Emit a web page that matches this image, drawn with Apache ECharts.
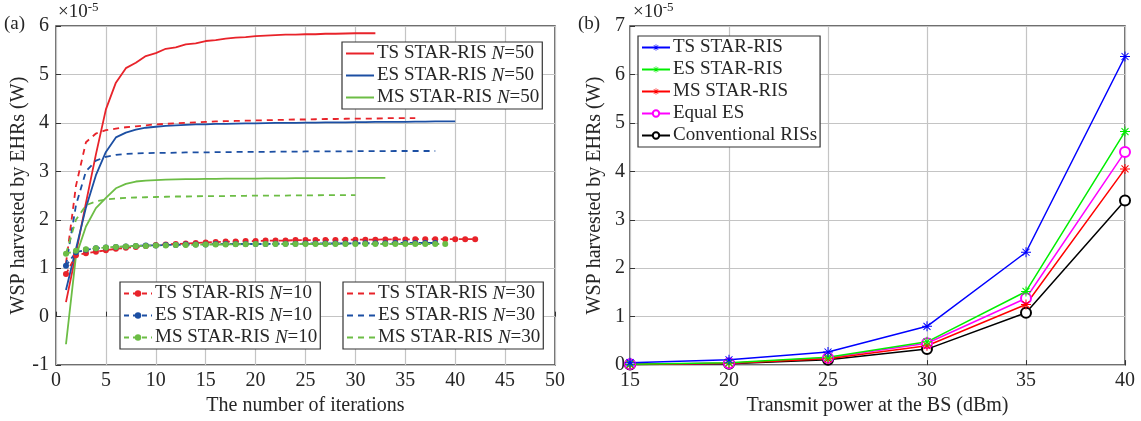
<!DOCTYPE html>
<html>
<head>
<meta charset="utf-8">
<script src="https://cdn.jsdelivr.net/npm/echarts/dist/echarts.min.js"></script>
<style>
  html, body { margin: 0; padding: 0; background: #fff; }
  #chart { width: 1141px; height: 421px; }
</style>
</head>
<body>
<div id="chart"></div>
<script>
// (a) WSP vs iterations, values in units of 1e-5 W, iteration = index + 1
const tsN50 = [0.3, 1.3, 2.35, 3.35, 4.28, 4.83, 5.13, 5.24, 5.38, 5.44, 5.53, 5.56, 5.62, 5.64, 5.69, 5.71, 5.74, 5.76, 5.77, 5.79, 5.80, 5.81, 5.82, 5.82, 5.83, 5.83, 5.84, 5.84, 5.845, 5.85, 5.85, 5.85]
const esN50 = [0.55, 1.4, 2.25, 2.92, 3.4, 3.7, 3.8, 3.86, 3.9, 3.92, 3.94, 3.95, 3.96, 3.97, 3.97, 3.98, 3.98, 3.985, 3.99, 3.99, 3.995, 4.0, 4.0, 4.0, 4.005, 4.005, 4.01, 4.01, 4.01, 4.015, 4.015, 4.02, 4.02, 4.02, 4.02, 4.025, 4.025, 4.03, 4.03, 4.03]
const msN50 = [-0.57, 1.25, 1.86, 2.24, 2.45, 2.65, 2.74, 2.79, 2.81, 2.82, 2.83, 2.835, 2.84, 2.84, 2.845, 2.845, 2.85, 2.85, 2.85, 2.85, 2.855, 2.855, 2.855, 2.86, 2.86, 2.86, 2.86, 2.86, 2.86, 2.865, 2.865, 2.865, 2.865]
const tsN30 = [1.1, 2.7, 3.6, 3.78, 3.85, 3.88, 3.91, 3.93, 3.95, 3.97, 3.98, 3.99, 4.0, 4.01, 4.02, 4.03, 4.035, 4.04, 4.045, 4.05, 4.055, 4.06, 4.065, 4.07, 4.07, 4.075, 4.08, 4.08, 4.085, 4.09, 4.09, 4.09, 4.095, 4.1, 4.1, 4.1]
const esN30 = [1.05, 2.3, 3.0, 3.22, 3.3, 3.34, 3.36, 3.37, 3.375, 3.38, 3.38, 3.385, 3.39, 3.39, 3.39, 3.395, 3.395, 3.4, 3.4, 3.4, 3.4, 3.405, 3.405, 3.405, 3.41, 3.41, 3.41, 3.41, 3.41, 3.415, 3.415, 3.415, 3.415, 3.42, 3.42, 3.42, 3.42, 3.42]
const msN30 = [1.3, 2.0, 2.3, 2.38, 2.42, 2.44, 2.45, 2.46, 2.465, 2.47, 2.475, 2.48, 2.48, 2.485, 2.49, 2.49, 2.49, 2.495, 2.495, 2.5, 2.5, 2.5, 2.5, 2.505, 2.505, 2.505, 2.51, 2.51, 2.51, 2.51]
const tsN10 = [0.88, 1.27, 1.31, 1.34, 1.37, 1.4, 1.42, 1.44, 1.46, 1.48, 1.49, 1.5, 1.51, 1.52, 1.53, 1.54, 1.55, 1.55, 1.56, 1.56, 1.57, 1.57, 1.57, 1.58, 1.58, 1.58, 1.585, 1.585, 1.59, 1.59, 1.59, 1.59, 1.595, 1.595, 1.595, 1.6, 1.6, 1.6, 1.6, 1.6, 1.6, 1.6]
const esN10 = [1.05, 1.33, 1.38, 1.41, 1.43, 1.44, 1.45, 1.46, 1.47, 1.47, 1.48, 1.48, 1.49, 1.49, 1.49, 1.5, 1.5, 1.5, 1.5, 1.5, 1.5, 1.505, 1.505, 1.505, 1.51, 1.51, 1.51, 1.51, 1.51, 1.515, 1.515, 1.515, 1.515, 1.52, 1.52, 1.52, 1.52, 1.52]
const msN10 = [1.3, 1.36, 1.39, 1.41, 1.43, 1.44, 1.45, 1.46, 1.46, 1.47, 1.47, 1.48, 1.48, 1.485, 1.49, 1.49, 1.49, 1.495, 1.495, 1.5, 1.5, 1.5, 1.5, 1.5, 1.5, 1.5, 1.5, 1.5, 1.5, 1.5, 1.5, 1.5, 1.5, 1.5, 1.5, 1.5, 1.5, 1.5, 1.5]

// (b) WSP vs transmit power, units of 1e-5 W
const powerDbm = [15, 20, 25, 30, 35, 40]
const tsPower = [0.05, 0.11, 0.27, 0.8, 2.33, 6.37]
const esPower = [0.02, 0.05, 0.16, 0.48, 1.52, 4.82]
const msPower = [0.01, 0.04, 0.13, 0.4, 1.25, 4.05]
const equalEsPower = [0.02, 0.04, 0.15, 0.45, 1.38, 4.4]
const convPower = [0.01, 0.03, 0.11, 0.33, 1.08, 3.4]

const RED = '#e8232a'
const BLUE = '#1c4fa3'
const GREEN = '#6cbd45'
const FONT = 'Liberation Serif'
const TXT = '#262626'
const FS = 20
const LFS = 19

const asterisk = 'path://M0,9L20,9L20,11L0,11Z M9,0L11,0L11,20L9,20Z M2.3,3.7L3.7,2.3L17.7,16.3L16.3,17.7Z M16.3,2.3L17.7,3.7L3.7,17.7L2.3,16.3Z'

const toPairs = (arr) => arr.map((v, i) => [i + 1, v])
const withX = (xs, ys) => ys.map((v, i) => [xs[i], v])

const iterLine = (name, data, color, type) => ({
    name,
    type: 'line',
    xAxisIndex: 0,
    yAxisIndex: 0,
    data: toPairs(data),
    symbol: 'none',
    lineStyle: { color, width: 1.8, type },
    itemStyle: { color },
    animation: false,
})

const dotLine = (name, data, color) => ({
    name,
    type: 'line',
    xAxisIndex: 0,
    yAxisIndex: 0,
    data: toPairs(data),
    symbol: 'circle',
    symbolSize: 6,
    lineStyle: { color, width: 1.8, type: [5, 4] },
    itemStyle: { color },
    animation: false,
})

const powerLine = (name, data, color, symbol, size) => ({
    name,
    type: 'line',
    xAxisIndex: 1,
    yAxisIndex: 1,
    data: withX(powerDbm, data),
    symbol,
    symbolSize: size,
    lineStyle: { color, width: 1.5 },
    itemStyle: symbol === 'emptyCircle'
        ? { color, borderColor: color, borderWidth: 1.5 }
        : { color },
    animation: false,
})

const italicN = (name) => name.replace(' N=', ' {i|N}=')

const legendBox = (pos, names, extra) => Object.assign({
    data: names,
    orient: 'vertical',
    itemWidth: 28,
    itemHeight: 8,
    itemGap: 3,
    padding: [2, 3, 2, 3],
    borderColor: '#333',
    borderWidth: 1.2,
    backgroundColor: '#fff',
    selectedMode: false,
    formatter: italicN,
    textStyle: {
        fontFamily: FONT, fontSize: LFS, color: TXT, padding: [0, 0, 0, -2],
        rich: { i: { fontFamily: FONT, fontSize: LFS, fontStyle: 'italic', color: TXT } },
    },
}, pos, extra || {})

const axisCommon = {
    axisLine: { show: false },
    axisTick: { show: true, inside: true, length: 5, lineStyle: { color: '#333' } },
    splitLine: { show: true, lineStyle: { color: '#c4c4c4', width: 1.2 } },
    axisLabel: { fontFamily: FONT, fontSize: FS, color: TXT },
    nameTextStyle: { fontFamily: FONT, fontSize: FS, color: TXT },
}

const chart = echarts.init(document.getElementById('chart'), null, { renderer: 'canvas' })

chart.setOption({
    backgroundColor: '#fff',
    animation: false,
    grid: [
        { left: 56, top: 26, width: 499, height: 343, show: true, borderColor: '#404040', borderWidth: 1.5, backgroundColor: 'transparent' },
        { left: 630, top: 26, width: 495, height: 343, show: true, borderColor: '#404040', borderWidth: 1.5, backgroundColor: 'transparent' },
    ],
    xAxis: [
        Object.assign({}, axisCommon, {
            type: 'value', gridIndex: 0, min: 0, max: 50, interval: 5,
            name: 'The number of iterations', nameLocation: 'middle', nameGap: 26,
            axisLabel: Object.assign({}, axisCommon.axisLabel, { margin: 6 }),
        }),
        Object.assign({}, axisCommon, {
            type: 'value', gridIndex: 1, min: 15, max: 40, interval: 5,
            name: 'Transmit power at the BS (dBm)', nameLocation: 'middle', nameGap: 26,
            axisLabel: Object.assign({}, axisCommon.axisLabel, { margin: 6 }),
        }),
    ],
    yAxis: [
        Object.assign({}, axisCommon, {
            type: 'value', gridIndex: 0, min: -1, max: 6, interval: 1,
            name: 'WSP harvested by EHRs (W)', nameLocation: 'middle', nameGap: 26, nameRotate: 90,
            axisLabel: Object.assign({}, axisCommon.axisLabel, { margin: 7 }),
        }),
        Object.assign({}, axisCommon, {
            type: 'value', gridIndex: 1, min: 0, max: 7, interval: 1,
            name: 'WSP harvested by EHRs (W)', nameLocation: 'middle', nameGap: 25, nameRotate: 90,
            axisLabel: Object.assign({}, axisCommon.axisLabel, { margin: 5 }),
        }),
    ],
    legend: [
        legendBox({ left: 342, top: 42 }, ['TS STAR-RIS N=50', 'ES STAR-RIS N=50', 'MS STAR-RIS N=50'], { itemStyle: { opacity: 0 } }),
        legendBox({ left: 120, top: 282 }, ['TS STAR-RIS N=10', 'ES STAR-RIS N=10', 'MS STAR-RIS N=10']),
        legendBox({ left: 343, top: 282 }, ['TS STAR-RIS N=30', 'ES STAR-RIS N=30', 'MS STAR-RIS N=30'], { itemStyle: { opacity: 0 } }),
        legendBox({ left: 638, top: 36 }, ['TS STAR-RIS', 'ES STAR-RIS', 'MS STAR-RIS', 'Equal ES', 'Conventional RISs'], { formatter: null }),
    ],
    graphic: [
        { type: 'text', left: 4, top: 15, style: { text: '(a)', font: '19px "Liberation Serif"', fill: TXT } },
        { type: 'text', left: 578, top: 15, style: { text: '(b)', font: '19px "Liberation Serif"', fill: TXT } },
        {
            type: 'text', left: 58, top: 1,
            style: {
                text: '×10{s|-5}', font: '19px "Liberation Serif"', fill: TXT,
                rich: { s: { fontFamily: FONT, fontSize: 13, color: TXT, verticalAlign: 'top', padding: [0, 0, 9, 0] } },
            },
        },
        {
            type: 'text', left: 633, top: 1,
            style: {
                text: '×10{s|-5}', font: '19px "Liberation Serif"', fill: TXT,
                rich: { s: { fontFamily: FONT, fontSize: 13, color: TXT, verticalAlign: 'top', padding: [0, 0, 9, 0] } },
            },
        },
    ],
    series: [
        iterLine('TS STAR-RIS N=50', tsN50, RED, 'solid'),
        iterLine('ES STAR-RIS N=50', esN50, BLUE, 'solid'),
        iterLine('MS STAR-RIS N=50', msN50, GREEN, 'solid'),
        iterLine('TS STAR-RIS N=30', tsN30, RED, [6, 5]),
        iterLine('ES STAR-RIS N=30', esN30, BLUE, [6, 5]),
        iterLine('MS STAR-RIS N=30', msN30, GREEN, [6, 5]),
        dotLine('TS STAR-RIS N=10', tsN10, RED),
        dotLine('ES STAR-RIS N=10', esN10, BLUE),
        dotLine('MS STAR-RIS N=10', msN10, GREEN),
        powerLine('Conventional RISs', convPower, '#000000', 'emptyCircle', 10),
        powerLine('Equal ES', equalEsPower, '#ff00ff', 'emptyCircle', 10),
        powerLine('MS STAR-RIS', msPower, '#ff0000', asterisk, 10),
        powerLine('ES STAR-RIS', esPower, '#00ee00', asterisk, 10),
        powerLine('TS STAR-RIS', tsPower, '#0000ff', asterisk, 10),
    ],
})
</script>
</body>
</html>
